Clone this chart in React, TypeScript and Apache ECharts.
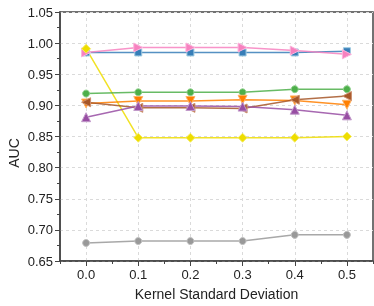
import React, { useEffect, useRef } from "react";
import * as echarts from "echarts";

const categories = ["0.0", "0.1", "0.2", "0.3", "0.4", "0.5"];
const yTicks = { min: 0.65, max: 1.05, step: 0.05 };

const blueVals = [0.985, 0.985, 0.985, 0.985, 0.985, 0.987];
const pinkVals = [0.985, 0.993, 0.993, 0.993, 0.988, 0.982];
const yellowVals = [0.991, 0.848, 0.848, 0.848, 0.848, 0.85];
const greenVals = [0.919, 0.921, 0.921, 0.921, 0.926, 0.926];
const orangeVals = [0.903, 0.907, 0.907, 0.909, 0.908, 0.901];
const brownVals = [0.905, 0.896, 0.896, 0.895, 0.909, 0.915];
const purpleVals = [0.881, 0.899, 0.899, 0.898, 0.893, 0.884];
const grayVals = [0.679, 0.682, 0.682, 0.682, 0.692, 0.692];

const FONT = "'Liberation Sans', Arial, Helvetica, sans-serif";
const AX = "#444";

function mk(name: string, data: number[], color: string, edge: string, symbol: string, size: number, rotate = 0) {
  return {
    name,
    type: "line",
    data,
    symbol,
    symbolSize: size,
    symbolRotate: rotate,
    lineStyle: { color, width: 1.5, opacity: 0.85 },
    itemStyle: { color, borderColor: edge, borderWidth: 1 },
    emphasis: { disabled: true },
  };
}

export default function App() {
  const ref = useRef<HTMLDivElement>(null);
  useEffect(() => {
    if (!ref.current) return;
    const chart = echarts.init(ref.current, undefined, { renderer: "svg" });
    chart.setOption({
      animation: false,
      textStyle: { fontFamily: FONT },
      grid: { left: 60, right: 1, top: 12, bottom: 43, show: true, borderColor: AX, borderWidth: 1.5, backgroundColor: "transparent" },
      xAxis: [
        {
          type: "category",
          data: categories,
          boundaryGap: true,
          position: "bottom",
          axisLine: { show: true, lineStyle: { color: AX, width: 1.5 } },
          axisTick: { show: true, alignWithLabel: true, length: 5, inside: false, lineStyle: { color: AX } },
          axisLabel: { fontSize: 13, color: "#222", margin: 7, fontFamily: FONT },
          splitLine: { show: true, alignWithLabel: true, lineStyle: { color: "#dadada", type: [3, 3], width: 1 } },
          name: "Kernel Standard Deviation",
          nameLocation: "middle",
          nameGap: 26,
          nameTextStyle: { fontSize: 14, color: "#222", fontFamily: FONT },
        },
        {
          type: "category",
          data: categories,
          boundaryGap: true,
          position: "bottom",
          axisLine: { show: false },
          axisTick: { show: true, alignWithLabel: false, length: 3, lineStyle: { color: AX } },
          axisLabel: { show: false },
          splitLine: { show: false },
        },
      ],
      yAxis: {
        type: "value",
        min: yTicks.min,
        max: yTicks.max,
        interval: yTicks.step,
        axisLine: { show: true, lineStyle: { color: AX, width: 1.5 } },
        axisTick: { show: true, length: 5, lineStyle: { color: AX } },
        minorTick: { show: true, splitNumber: 2, length: 3, lineStyle: { color: AX } },
        axisLabel: { fontSize: 13, color: "#222", margin: 7, fontFamily: FONT, formatter: (v: number) => v.toFixed(2) },
        splitLine: { show: true, lineStyle: { color: "#dadada", type: [3, 3], width: 1 } },
      },
      graphic: [
        {
          type: "text",
          x: 14,
          y: 153,
          rotation: Math.PI / 2,
          style: { text: "AUC", fontSize: 14, fill: "#222", font: `14px ${FONT}`, align: "center", verticalAlign: "middle" },
        },
      ],
      series: [
        mk("blue", blueVals, "#377eb8", "#9ecae1", "rect", 7),
        mk("pink", pinkVals, "#f781bf", "#fbb4dc", "triangle", 9, -90),
        mk("yellow", yellowVals, "#eedd00", "#f5ec66", "diamond", 9),
        mk("green", greenVals, "#4daf4a", "#8fd08c", "circle", 7),
        mk("orange", orangeVals, "#ff7f00", "#ffb366", "triangle", 9, 180),
        mk("brown", brownVals, "#a65628", "#cc9070", "triangle", 9, 90),
        mk("purple", purpleVals, "#984ea3", "#c39bcb", "triangle", 9),
        mk("gray", grayVals, "#999999", "#c0c0c0", "circle", 7),
      ],
    });
    return () => chart.dispose();
  }, []);
  return <div ref={ref} style={{ position: "fixed", left: 0, top: 0, width: 374, height: 306 }} />;
}
